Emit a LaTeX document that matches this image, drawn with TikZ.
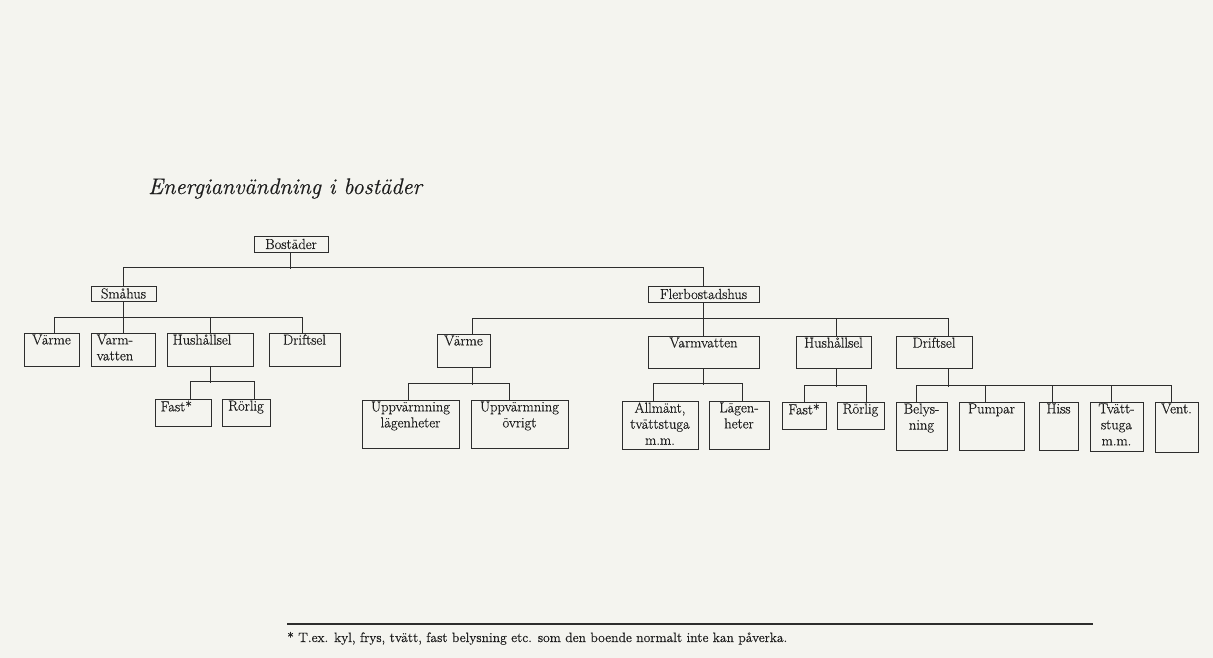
\documentclass[tikz,border=0pt]{standalone}
\usepackage{fontspec}
\newfontfamily\heavyrm{Latin Modern Roman}[FakeBold=0.5]
\definecolor{bgc}{RGB}{244,244,239}
\definecolor{linec}{RGB}{45,45,45}
\definecolor{txtc}{RGB}{30,30,30}
\newcommand\bxfont{\heavyrm\fontsize{14.5}{16}\selectfont}
\begin{document}
\begin{tikzpicture}[x=1pt,y=-1pt,
  bx/.style 2 args={draw=linec, line width=1pt, inner sep=0pt, minimum width=#1pt, minimum height=#2pt, font=\bxfont, text=txtc},
  lbl/.style={anchor=north, inner sep=1.8pt, align=center, font=\bxfont, text=txtc},
  lbll/.style={anchor=north west, inner xsep=6pt, inner ysep=1.8pt, align=left, font=\bxfont, text=txtc},
  ln/.style={draw=linec, line width=1pt}]
\fill[bgc] (0,0) rectangle (1213,658);
\useasboundingbox (0,0) rectangle (1213,658);

% title
\node[anchor=base west, font=\heavyrm\fontsize{22.5}{26}\selectfont\itshape, text=txtc, inner sep=0pt] (title) at (148,194) {Energianvändning i bostäder};

% level 0/1
\node[bx={74}{16}] (bost) at (291,244) {Bostäder};
\node[bx={65}{15}] (smahus) at (123.5,293.5) {Småhus};
\node[bx={111}{16}] (flerb) at (703.5,294) {Flerbostadshus};

% Småhus children
\node[bx={55}{33}, label={[lbl]north:Värme}] (varme1) at (51.5,349.5) {};
\node[bx={64}{33}, label={[lbll]north west:Varm-\\vatten}] (varm1) at (123,349.5) {};
\node[bx={86}{33}, label={[lbll]north west:Hushållsel}] (hus1) at (210,349.5) {};
\node[bx={71}{33}, label={[lbl]north:Driftsel}] (drift1) at (304.5,349.5) {};
\node[bx={56}{27}, label={[lbll]north west:Fast*}] (fast1) at (183,412.5) {};
\node[bx={48}{27}, label={[lbl]north:Rörlig}] (rorlig1) at (246,412.5) {};

% Flerbostadshus children
\node[bx={53}{33}, label={[lbl]north:Värme}] (varme2) at (463.5,350.5) {};
\node[bx={111}{32}, label={[lbl]north:Varmvatten}] (varmv2) at (703.5,352) {};
\node[bx={75}{32}, label={[lbl]north:Hushållsel}] (hus2) at (833.5,352) {};
\node[bx={76}{32}, label={[lbl]north:Driftsel}] (drift2) at (934,352) {};

\node[bx={97}{48}, label={[lbl]north:Uppvärmning\\lägenheter}] (upp1) at (410.5,424) {};
\node[bx={97}{48}, label={[lbl]north:Uppvärmning\\övrigt}] (upp2) at (519.5,424) {};
\node[bx={76}{48}, label={[lbl]north:Allmänt,\\tvättstuga\\m.m.}] (allm) at (660,425) {};
\node[bx={60}{48}, label={[lbl]north:Lägen-\\heter}] (lagen) at (739,425) {};
\node[bx={44}{27}, label={[lbl]north:Fast*}] (fast2) at (804,415.5) {};
\node[bx={47}{27}, label={[lbl]north:Rörlig}] (rorlig2) at (860.5,415.5) {};
\node[bx={51}{48}, label={[lbl]north:Belys-\\ning}] (bel) at (921.5,426) {};
\node[bx={65}{48}, label={[lbl]north:Pumpar}] (pump) at (991.5,426) {};
\node[bx={39}{48}, label={[lbl]north:Hiss}] (hiss) at (1058.5,426) {};
\node[bx={53}{49}, label={[lbl]north:Tvätt-\\stuga\\m.m.}] (tvatt) at (1116.5,426.5) {};
\node[bx={43}{50}, label={[lbl]north:Vent.}] (vent) at (1176.5,427) {};

% connectors level 0
\draw[ln] ([xshift=-1pt]bost.south) -- ++(0,16);
\draw[ln] (smahus.north) -- ++(0,-18) -| (flerb.north);

% Småhus
\draw[ln] (smahus.south) -- ++(0,17);
\draw[ln] ([xshift=3pt]varme1.north) -- ++(0,-15) -| ([xshift=-2pt]drift1.north);
\draw[ln] (varm1.north) -- ++(0,-15);
\draw[ln] (hus1.north) -- ++(0,-15);

\draw[ln] (hus1.south) -- ++(0,16);
\draw[ln] ([xshift=7pt]fast1.north) -- ++(0,-17) -| ([xshift=8pt]rorlig1.north);

% Flerbostadshus
\draw[ln] (flerb.south) -- ++(0,17);
\draw[ln] ([xshift=9pt]varme2.north) -- ++(0,-15) -| ([xshift=14pt]drift2.north);
\draw[ln] (varmv2.north) -- ++(0,-17);
\draw[ln] ([xshift=3pt]hus2.north) -- ++(0,-17);

\draw[ln] ([xshift=9pt]varme2.south) -- ++(0,17);
\draw[ln] ([xshift=-2.5pt]upp1.north) -- ++(0,-16) -| ([xshift=-10pt]upp2.north);

\draw[ln] (varmv2.south) -- ++(0,16);
\draw[ln] ([xshift=-7pt]allm.north) -- ++(0,-17) -| ([xshift=3pt]lagen.north);

\draw[ln] ([xshift=3pt]hus2.south) -- ++(0,18);
\draw[ln] (fast2.north) -- ++(0,-16) -| ([xshift=6pt]rorlig2.north);

\draw[ln] ([xshift=14pt]drift2.south) -- ++(0,18);
\draw[ln] ([xshift=-5pt]bel.north) -- ++(0,-16) -| ([xshift=-5pt]vent.north);
\draw[ln] ([xshift=-6pt]pump.north) -- ++(0,-16);
\draw[ln] ([xshift=-6pt]hiss.north) -- ++(0,-16);
\draw[ln] ([xshift=-5pt]tvatt.north) -- ++(0,-16);

% footnote
\coordinate (fa) at (287,624);
\coordinate (fb) at (1093,624);
\draw[draw=linec, line width=1.1pt] (fa) -- (fb);
\node[anchor=base west, inner sep=0pt, font=\heavyrm\fontsize{13.6}{16}\selectfont, text=txtc] (foot) at (287,642) {* T.ex. kyl, frys, tvätt, fast belysning etc. som den boende normalt inte kan påverka.};
\end{tikzpicture}
\end{document}
